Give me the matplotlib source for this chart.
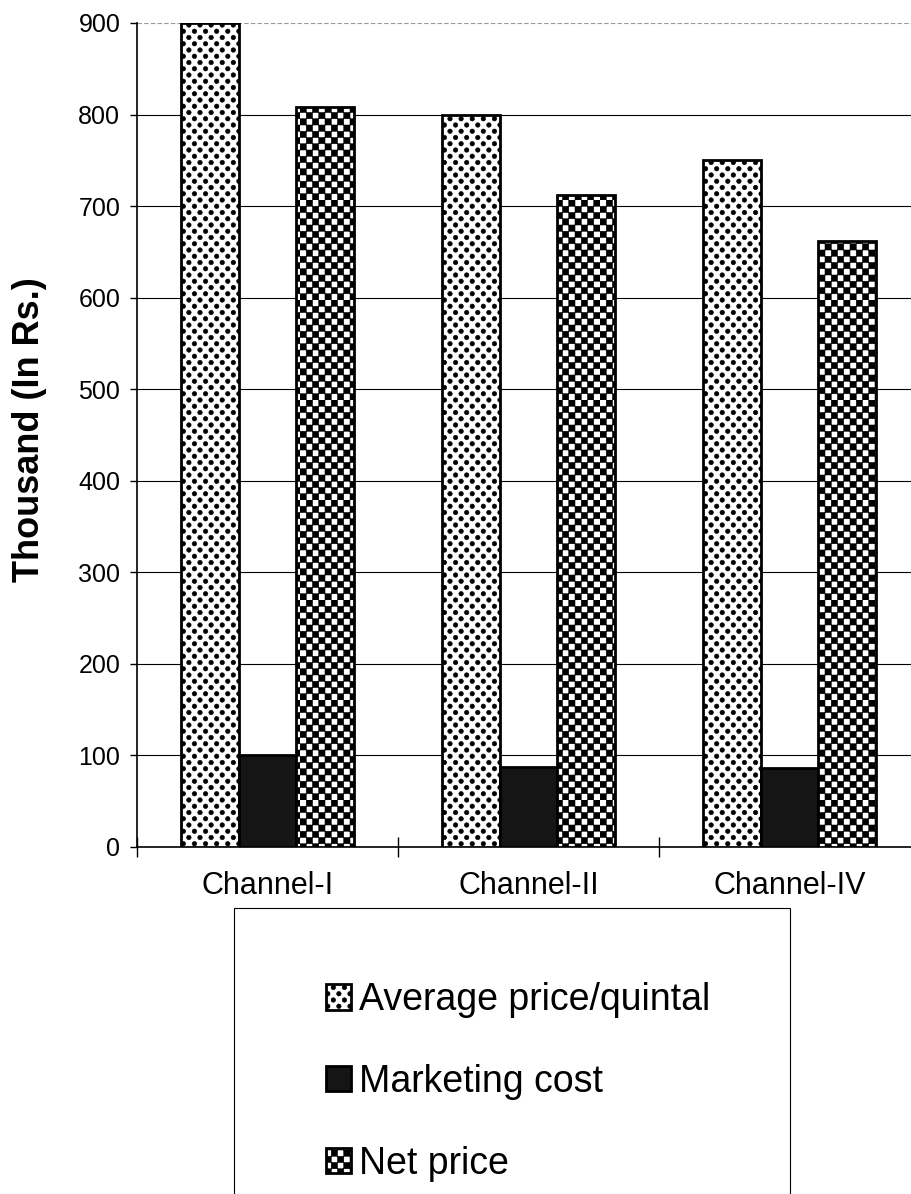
import numpy as np
import matplotlib
matplotlib.use("Agg")
import matplotlib.pyplot as plt
import matplotlib.hatch as mhatch
from matplotlib.path import Path
from matplotlib.patches import Rectangle

# data
channels = ["Channel-I", "Channel-II", "Channel-IV"]
avg_price = [900, 800, 750]
marketing_cost = [100, 87, 86]
net_price = [808, 712, 662]
series_names = ["Average price/quintal", "Marketing cost", "Net price"]
y_ticks = [0, 100, 200, 300, 400, 500, 600, 700, 800, 900]


# custom fill patterns (dotted lattice for '.', checkerboard for 'o')
def _polys_to_path(polys, vertices, codes):
    k = 0
    for p in polys:
        n = len(p)
        vertices[k:k + n] = p
        vertices[k + n] = p[0]
        codes[k] = Path.MOVETO
        codes[k + 1:k + n] = Path.LINETO
        codes[k + n] = Path.CLOSEPOLY
        k += n + 1


class DotLattice(mhatch.HatchPatternBase):
    def __init__(self, hatch, density):
        self.polys = []
        if hatch.count('.') > 0:
            nr, nc, r = 16, 9, 0.023
            ang = np.linspace(0, 2 * np.pi, 13)[:-1]
            for i in range(nr + 1):
                for j in range(-1, nc + 1):
                    cx = (j + 0.5 * (i % 2)) / nc
                    cy = i / nr
                    self.polys.append(np.column_stack([cx + r * np.cos(ang),
                                                       cy + r * np.sin(ang)]))
        self.num_vertices = sum(len(p) + 1 for p in self.polys)

    def set_vertices_and_codes(self, vertices, codes):
        _polys_to_path(self.polys, vertices, codes)


class Checker(mhatch.HatchPatternBase):
    def __init__(self, hatch, density):
        self.polys = []
        if hatch.count('o') > 0:
            n = 16
            s = 1.0 / n
            for i in range(n):
                for j in range(n):
                    if (i + j) % 2 == 0:
                        x0, y0 = j * s, i * s
                        self.polys.append(np.array([[x0, y0], [x0 + s, y0],
                                                    [x0 + s, y0 + s], [x0, y0 + s]]))
        self.num_vertices = sum(len(p) + 1 for p in self.polys)

    def set_vertices_and_codes(self, vertices, codes):
        _polys_to_path(self.polys, vertices, codes)


mhatch._hatch_types = [DotLattice if t is mhatch.SmallFilledCircles else
                       Checker if t is mhatch.SmallCircles else t
                       for t in mhatch._hatch_types]

plt.rcParams['font.family'] = ['Liberation Sans', 'DejaVu Sans']
plt.rcParams['hatch.linewidth'] = 0.4

fig = plt.figure(figsize=(9.11, 11.94), dpi=100)
ax = fig.add_axes([137 / 911, 1 - 847 / 1194, (920 - 137) / 911, (847 - 23) / 1194])

x = np.arange(len(channels))
w = 0.222
b1 = ax.bar(x - w, avg_price, w, facecolor="white", edgecolor="black",
            linewidth=2.0, hatch=".", label=series_names[0], zorder=3)
b2 = ax.bar(x, marketing_cost, w, facecolor="#151515", edgecolor="black",
            linewidth=2.0, label=series_names[1], zorder=3)
b3 = ax.bar(x + w, net_price, w, facecolor="white", edgecolor="black",
            linewidth=2.0, hatch="o", label=series_names[2], zorder=3)

ax.set_xlim(-0.5, len(channels) - 0.5)
ax.set_ylim(0, 900)
ax.set_yticks(y_ticks)
ax.tick_params(axis="y", labelsize=18, length=5, width=1, pad=7)

# category boundary ticks crossing the axis, labels centred in each slot
ax.set_xticks(np.arange(len(channels) + 1) - 0.5)
ax.set_xticklabels([])
ax.tick_params(axis="x", which="major", direction="inout", length=14, width=1)
ax.set_xticks(x, minor=True)
ax.set_xticklabels(channels, minor=True)
ax.tick_params(axis="x", which="minor", length=0, labelsize=22, pad=17)

ax.yaxis.grid(True, color="black", linewidth=0.8, zorder=0)
ax.set_axisbelow(True)
ax.get_ygridlines()[-1].set_color("0.6")
ax.get_ygridlines()[-1].set_linestyle((0, (4, 2)))
for s in ["top", "right"]:
    ax.spines[s].set_visible(False)
ax.spines["left"].set_linewidth(1.2)
ax.spines["bottom"].set_linewidth(1.2)

fig.text(30 / 911, 1 - 430 / 1194, "Thousand (In Rs.)", rotation=90,
         ha="center", va="center", fontsize=26, fontweight="bold")

# legend box (extends past the bottom edge like the original)
fig.add_artist(Rectangle((234 / 911, -0.05), (790 - 234) / 911, 1 - 908 / 1194 + 0.05,
                         transform=fig.transFigure, facecolor="none",
                         edgecolor="black", linewidth=0.8))
fig.legend(handles=[b1, b2, b3], loc="upper left",
           bbox_to_anchor=(326 / 911, 1 - 982 / 1194), frameon=False,
           fontsize=27, handlelength=0.67, handleheight=0.67,
           handletextpad=0.2, labelspacing=1.22, borderpad=0, borderaxespad=0)

fig.savefig("out.png", dpi=100)
